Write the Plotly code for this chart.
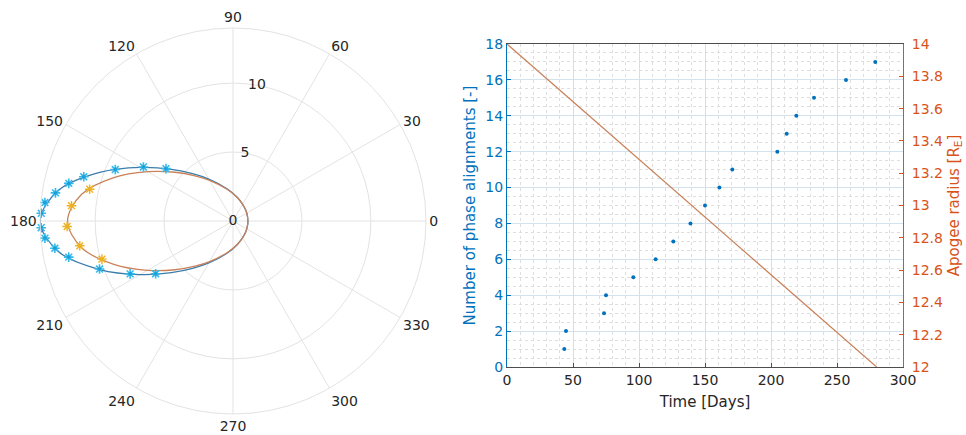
import plotly.graph_objects as go

# ---------------- data ----------------
# Orbit curves (angle in deg, radius in Earth radii)
orbit_theta = [0, 20, 40, 60, 80, 100, 120, 130, 140, 150, 160, 170, 180,
               190, 200, 210, 220, 230, 240, 260, 280, 300, 320, 340, 360]
orbit_r_initial = [1.08, 1.11, 1.21, 1.40, 1.75, 2.36, 3.51, 4.46, 5.83, 7.77, 10.29, 12.84, 14.00,
                   12.84, 10.29, 7.77, 5.83, 4.46, 3.51, 2.36, 1.75, 1.40, 1.21, 1.11, 1.08]
orbit_r_final = [1.08, 1.11, 1.21, 1.40, 1.73, 2.32, 3.40, 4.28, 5.50, 7.15, 9.20, 11.15, 12.00,
                 11.15, 9.20, 7.15, 5.50, 4.28, 3.40, 2.32, 1.73, 1.40, 1.21, 1.11, 1.08]

# Alignment markers on the initial orbit
align_theta = [142.0, 148.9, 156.4, 163.5, 167.1, 171.0, 174.4, 177.7,
               182.0, 185.2, 188.7, 192.4, 199.8, 207.2, 214.3]
align_r = [6.17, 7.59, 9.32, 11.29, 12.22, 13.04, 13.71, 13.92,
           13.92, 13.70, 13.07, 12.20, 10.29, 8.39, 6.79]

# Markers on the final orbit
final_theta = [167.5, 174.6, 181.9, 189.2, 196.2]
final_r = [10.65, 11.77, 12.04, 11.26, 9.90]

# Right plot: phase alignments vs time
time_days = [43.4, 44.7, 73.5, 75.0, 95.7, 112.6, 126.0, 139.0, 150.0,
             160.9, 170.7, 204.8, 211.9, 219.2, 232.6, 256.8, 279.0]
n_align = [1, 2, 3, 4, 5, 6, 7, 8, 9, 10, 11, 12, 13, 14, 15, 16, 17]

# Apogee radius vs time
apogee_t = [0, 280]
apogee_r = [14.0, 12.0]

angle_ticks = [0, 30, 60, 90, 120, 150, 180, 210, 240, 270, 300, 330]
radial_ticks = [0, 5, 10]
radial_label_angle = 80

# ---------------- style ----------------
BLUE = "#0072BD"
ORANGE = "#D95319"
LINE_BLUE = "#3a7cad"
LINE_ORANGE = "#c9825a"
CYAN = "#35b9ec"
YELLOW = "#EDB120"
TXT = "#262626"
GRID = "#e3e3e3"
FONT = "DejaVu Sans"

fig = go.Figure()

fig.add_trace(go.Scatterpolar(r=orbit_r_initial, theta=orbit_theta, mode="lines",
                              line=dict(color=LINE_BLUE, width=1.3, shape="spline"),
                              showlegend=False))
fig.add_trace(go.Scatterpolar(r=orbit_r_final, theta=orbit_theta, mode="lines",
                              line=dict(color=LINE_ORANGE, width=1.3, shape="spline"),
                              showlegend=False))
fig.add_trace(go.Scatterpolar(r=align_r, theta=align_theta, mode="markers",
                              marker=dict(symbol="asterisk-open", size=8, color=CYAN,
                                          line=dict(color=CYAN, width=1.6)),
                              showlegend=False))
fig.add_trace(go.Scatterpolar(r=align_r, theta=align_theta, mode="markers",
                              marker=dict(symbol="circle", size=3.5, color="#1c9fd6"),
                              showlegend=False))
fig.add_trace(go.Scatterpolar(r=final_r, theta=final_theta, mode="markers",
                              marker=dict(symbol="asterisk-open", size=8, color=YELLOW,
                                          line=dict(color=YELLOW, width=1.4)),
                              showlegend=False))
# radial tick labels placed on the 80-degree spoke, like the original
fig.add_trace(go.Scatterpolar(r=radial_ticks, theta=[radial_label_angle] * len(radial_ticks),
                              mode="text", text=[str(v) for v in radial_ticks],
                              textposition="middle center",
                              textfont=dict(size=14, color=TXT, family=FONT),
                              hoverinfo="skip", showlegend=False))

fig.add_trace(go.Scatter(x=time_days, y=n_align, mode="markers",
                         marker=dict(color=BLUE, size=4), xaxis="x", yaxis="y",
                         showlegend=False))
fig.add_trace(go.Scatter(x=apogee_t, y=apogee_r, mode="lines",
                         line=dict(color=LINE_ORANGE, width=1.2), xaxis="x", yaxis="y2",
                         showlegend=False))

W, H = 966, 435
cx, cy, R = 233, 221, 193

fig.update_layout(
    template="none",
    width=W, height=H,
    margin=dict(l=0, r=0, t=0, b=0, autoexpand=False),
    paper_bgcolor="white", plot_bgcolor="white",
    font=dict(family=FONT, size=14, color=TXT),
    showlegend=False,
    polar=dict(
        domain=dict(x=[(cx - R) / W, (cx + R) / W],
                    y=[(H - cy - R) / H, (H - cy + R) / H]),
        bgcolor="white",
        radialaxis=dict(range=[0, 14], tickvals=radial_ticks, angle=radial_label_angle,
                        showticklabels=False,
                        showline=False, ticks="", gridcolor=GRID, gridwidth=1),
        angularaxis=dict(direction="counterclockwise", rotation=0,
                         tickvals=angle_ticks, ticktext=[str(a) for a in angle_ticks],
                         ticks="", showline=True, linecolor=GRID, linewidth=1,
                         gridcolor=GRID, gridwidth=1,
                         tickfont=dict(size=14, color=TXT, family=FONT)),
    ),
    xaxis=dict(domain=[507 / W, 903 / W], range=[0, 300], dtick=50, automargin=True,
               showline=True, linecolor="#4d4d4d", linewidth=1, mirror=True,
               ticks="inside", ticklen=4, tickcolor="#4d4d4d",
               showgrid=True, gridcolor="#dcdcdc", gridwidth=1, zeroline=False,
               minor=dict(dtick=10, showgrid=True, gridcolor="#dedede", griddash="dot",
                          ticks=""),
               title=dict(text="Time [Days]", font=dict(size=15, color=TXT), standoff=9),
               tickfont=dict(size=14, color=TXT)),
    yaxis=dict(domain=[(H - 367) / H, (H - 44) / H], range=[0, 18], dtick=2, automargin=False,
               showline=True, linecolor=BLUE, linewidth=1,
               ticks="inside", ticklen=4, tickcolor=BLUE,
               showgrid=True, gridcolor="#d3e2ee", gridwidth=1, zeroline=False,
               minor=dict(dtick=0.5, showgrid=True, gridcolor="#dedede", griddash="dot",
                          ticks=""),
               title=dict(text="Number of phase alignments [-]",
                          font=dict(size=15, color=BLUE), standoff=6),
               tickfont=dict(size=14, color=BLUE)),
    yaxis2=dict(overlaying="y", side="right", anchor="x", range=[12, 14], dtick=0.2,
                tickformat="~g", automargin=False, ticklabelstandoff=5,
                showline=True, linecolor=ORANGE, linewidth=1,
                ticks="inside", ticklen=4, tickcolor=ORANGE,
                showgrid=False, zeroline=False,
                title=dict(text="Apogee radius [R<sub>E</sub>]",
                           font=dict(size=15, color=ORANGE), standoff=6),
                tickfont=dict(size=14, color=ORANGE)),
)

fig.write_html("out.html", config={"displayModeBar": False},
               post_script="document.body.style.margin='0';document.body.style.overflow='hidden';")
